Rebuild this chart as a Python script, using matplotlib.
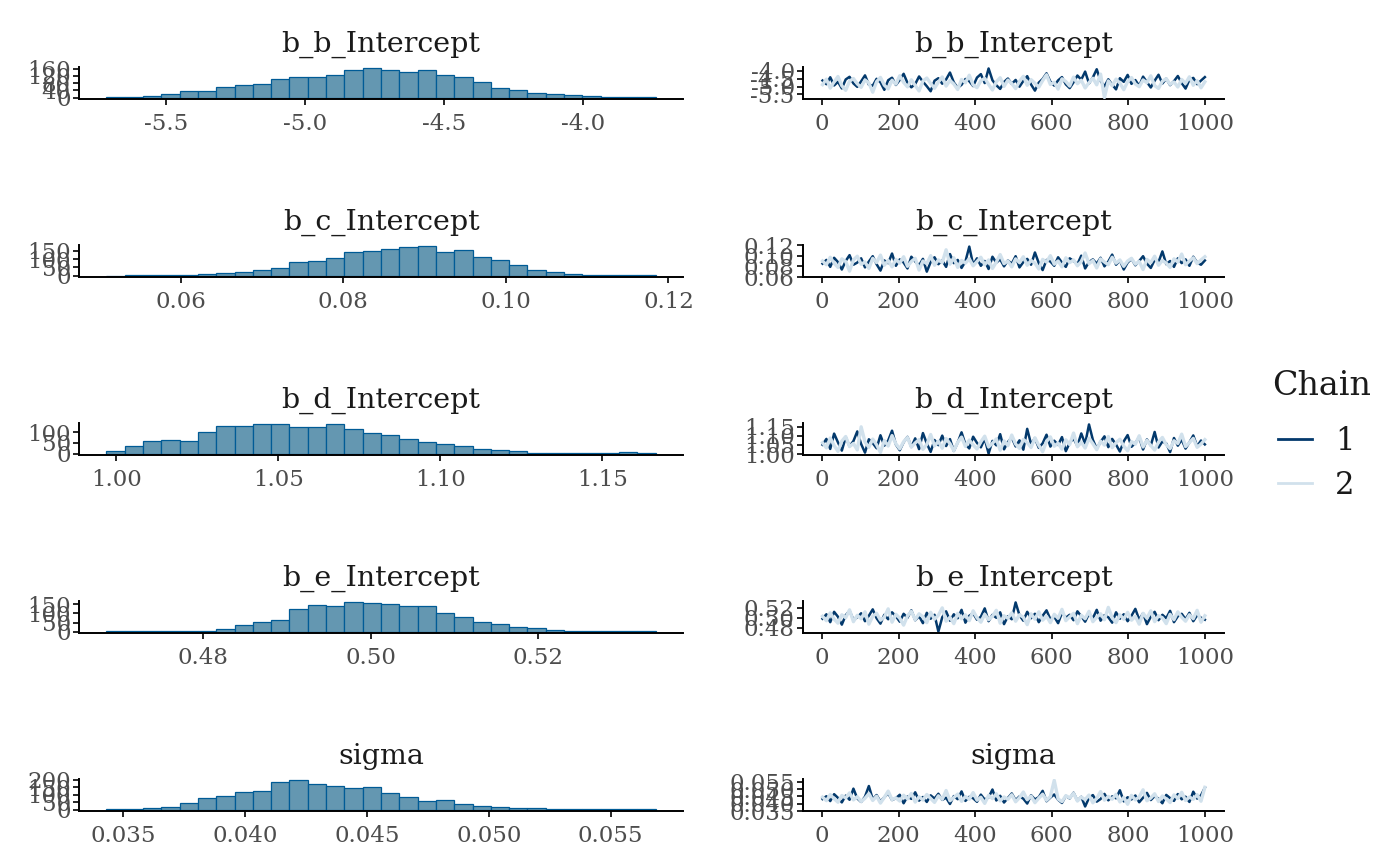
import numpy as np
import matplotlib
matplotlib.use("Agg")
import matplotlib.pyplot as plt

plt.rcParams['font.family'] = ['DejaVu Serif']

# ---------------- data ----------------
params = ["b_b_Intercept", "b_c_Intercept", "b_d_Intercept", "b_e_Intercept", "sigma"]

# histogram counts (30 bins, both chains pooled)
counts_b = [2, 1, 8, 17, 34, 35, 57, 69, 74, 105, 114, 112, 128, 153, 162,
            156, 141, 155, 128, 117, 86, 55, 40, 24, 17, 12, 10, 5, 2, 1]
counts_c = [0, 1, 2, 3, 4, 7, 15, 20, 32, 44, 80, 90, 105, 143, 148,
            162, 171, 176, 143, 155, 113, 97, 66, 32, 20, 11, 5, 4, 2, 1]
counts_d = [13, 34, 57, 61, 58, 103, 127, 130, 136, 136, 123, 123, 136, 117, 97,
            85, 70, 55, 43, 37, 21, 15, 12, 4, 4, 3, 2, 2, 5, 1]
counts_e = [1, 1, 2, 3, 5, 5, 14, 36, 53, 64, 123, 145, 141, 161, 156,
            152, 143, 143, 105, 81, 53, 44, 26, 18, 6, 3, 2, 1, 1, 1]
counts_s = [1, 2, 8, 15, 47, 77, 92, 121, 128, 188, 196, 175, 156, 147, 151,
            109, 87, 60, 64, 40, 23, 19, 13, 9, 4, 2, 2, 1, 1, 2]

# histogram bin range (lower edge of first bin, upper edge of last bin)
bin_start = [-5.714, 0.05087, 0.9969, 0.46844, 0.034326]
bin_end = [-3.739, 0.11841, 1.1665, 0.53399, 0.056839]

hist_xticks = [[-5.5, -5.0, -4.5, -4.0],
               [0.06, 0.08, 0.10, 0.12],
               [1.00, 1.05, 1.10, 1.15],
               [0.48, 0.50, 0.52],
               [0.035, 0.040, 0.045, 0.050, 0.055]]
hist_xlabels = [["-5.5", "-5.0", "-4.5", "-4.0"],
                ["0.06", "0.08", "0.10", "0.12"],
                ["1.00", "1.05", "1.10", "1.15"],
                ["0.48", "0.50", "0.52"],
                ["0.035", "0.040", "0.045", "0.050", "0.055"]]
hist_yticks = [[0, 40, 80, 120, 160],
               [0, 50, 100, 150],
               [0, 50, 100],
               [0, 50, 100, 150],
               [0, 50, 100, 150, 200]]

trace_yticks = hist_xticks
trace_ylabels = hist_xlabels
iter_ticks = [0, 200, 400, 600, 800, 1000]
n_iter = 1000

chain1_b = [-4.62, -4.85, -4.41, -4.93, -4.70, -5.12, -4.55, -4.38, -4.80, -5.02,
            -4.67, -4.29, -4.88, -4.95, -4.51, -4.73, -5.21, -4.60, -4.44, -4.90,
            -4.58, -4.19, -4.77, -5.05, -4.84, -4.36, -4.69, -4.98, -5.30, -4.63,
            -4.47, -4.82, -4.55, -4.11, -4.74, -5.08, -4.89, -4.52, -4.66, -4.97,
            -4.43, -4.21, -4.78, -3.85, -4.60, -4.92, -5.15, -4.71, -4.49, -4.83,
            -4.58, -5.01, -4.64, -4.34, -4.87, -5.26, -4.75, -4.52, -4.16, -4.69,
            -4.94, -4.61, -4.40, -4.86, -5.10, -4.73, -4.30, -4.56, -4.05, -4.80,
            -4.42, -3.90, -4.65, -4.99, -4.54, -4.88, -5.18, -4.47, -4.70, -4.26,
            -4.83, -4.59, -4.96, -4.37, -4.72, -5.06, -4.63, -4.25, -4.81, -4.50,
            -4.91, -4.66, -4.33, -4.78, -5.13, -4.57, -4.45, -4.85, -4.62, -4.40]
chain2_b = [-4.88, -4.53, -5.10, -4.71, -4.36, -4.95, -5.24, -4.66, -4.49, -4.83,
            -5.05, -4.58, -4.77, -5.36, -4.69, -4.42, -4.91, -5.15, -4.60, -4.85,
            -4.31, -4.74, -5.02, -4.57, -4.93, -5.28, -4.65, -4.46, -4.80, -5.11,
            -4.72, -4.39, -4.97, -4.61, -4.84, -5.19, -4.55, -4.76, -4.28, -4.90,
            -5.07, -4.63, -4.48, -4.86, -5.22, -4.70, -4.44, -4.99, -4.59, -4.81,
            -5.13, -4.67, -4.35, -4.92, -4.56, -4.79, -5.04, -4.62, -4.25, -4.87,
            -4.73, -5.16, -4.51, -4.68, -4.97, -4.40, -4.82, -4.60, -5.09, -4.75,
            -4.47, -4.89, -4.21, -5.70, -4.64, -4.95, -4.53, -4.78, -5.20, -4.69,
            -4.43, -4.84, -5.01, -4.58, -4.76, -4.32, -4.94, -5.12, -4.66, -4.50,
            -4.86, -4.71, -5.03, -4.55, -4.80, -4.38, -4.92, -4.63, -5.08, -4.70]

chain1_c = [0.085, 0.092, 0.079, 0.096, 0.088, 0.074, 0.090, 0.101, 0.083, 0.087,
            0.095, 0.078, 0.089, 0.099, 0.084, 0.072, 0.091, 0.086, 0.104, 0.081,
            0.093, 0.087, 0.076, 0.098, 0.089, 0.082, 0.094, 0.070, 0.088, 0.097,
            0.084, 0.091, 0.079, 0.103, 0.086, 0.092, 0.077, 0.089, 0.117, 0.083,
            0.095, 0.081, 0.090, 0.075, 0.098, 0.087, 0.093, 0.080, 0.091, 0.085,
            0.099, 0.078, 0.088, 0.094, 0.083, 0.106, 0.086, 0.073, 0.092, 0.089,
            0.081, 0.097, 0.087, 0.079, 0.095, 0.090, 0.084, 0.100, 0.076, 0.088,
            0.093, 0.085, 0.096, 0.080, 0.089, 0.102, 0.083, 0.091, 0.074, 0.087,
            0.094, 0.082, 0.090, 0.099, 0.085, 0.077, 0.092, 0.088, 0.108, 0.084,
            0.090, 0.079, 0.095, 0.086, 0.093, 0.081, 0.098, 0.087, 0.083, 0.091]
chain2_c = [0.090, 0.083, 0.097, 0.086, 0.078, 0.094, 0.089, 0.071, 0.092, 0.099,
            0.084, 0.088, 0.076, 0.095, 0.087, 0.101, 0.082, 0.091, 0.079, 0.093,
            0.086, 0.098, 0.080, 0.089, 0.095, 0.073, 0.090, 0.085, 0.100, 0.082,
            0.092, 0.087, 0.111, 0.084, 0.096, 0.078, 0.091, 0.086, 0.094, 0.081,
            0.089, 0.097, 0.083, 0.092, 0.076, 0.088, 0.102, 0.085, 0.090, 0.079,
            0.094, 0.087, 0.098, 0.082, 0.091, 0.086, 0.075, 0.093, 0.088, 0.100,
            0.084, 0.090, 0.079, 0.096, 0.087, 0.092, 0.081, 0.089, 0.105, 0.085,
            0.091, 0.077, 0.094, 0.088, 0.083, 0.097, 0.086, 0.092, 0.080, 0.090,
            0.095, 0.084, 0.089, 0.074, 0.093, 0.087, 0.099, 0.082, 0.091, 0.086,
            0.078, 0.094, 0.088, 0.103, 0.083, 0.090, 0.096, 0.085, 0.092, 0.098]

chain1_d = [1.051, 1.083, 1.028, 1.112, 1.064, 1.019, 1.092, 1.043, 1.071, 1.124,
            1.055, 1.008, 1.081, 1.060, 1.032, 1.103, 1.046, 1.074, 1.128, 1.052,
            1.021, 1.065, 1.094, 1.039, 1.086, 1.027, 1.115, 1.058, 1.012, 1.077,
            1.049, 1.101, 1.044, 1.082, 1.017, 1.063, 1.119, 1.053, 1.031, 1.095,
            1.061, 1.037, 1.084, 1.003, 1.072, 1.048, 1.109, 1.026, 1.066, 1.090,
            1.042, 1.075, 1.024, 1.138, 1.054, 1.087, 1.034, 1.059, 1.106, 1.041,
            1.073, 1.050, 1.093, 1.016, 1.062, 1.085, 1.045, 1.113, 1.056, 1.162,
            1.078, 1.029, 1.067, 1.097, 1.038, 1.083, 1.052, 1.014, 1.070, 1.104,
            1.040, 1.061, 1.091, 1.025, 1.080, 1.047, 1.121, 1.036, 1.069, 1.058,
            1.011, 1.088, 1.046, 1.079, 1.030, 1.064, 1.102, 1.043, 1.074, 1.053]
chain2_d = [1.062, 1.034, 1.088, 1.047, 1.015, 1.071, 1.096, 1.041, 1.058, 1.023,
            1.149, 1.066, 1.037, 1.082, 1.051, 1.009, 1.074, 1.044, 1.101, 1.056,
            1.029, 1.068, 1.091, 1.038, 1.061, 1.079, 1.026, 1.053, 1.107, 1.045,
            1.070, 1.032, 1.085, 1.057, 1.019, 1.064, 1.093, 1.042, 1.077, 1.050,
            1.028, 1.067, 1.098, 1.039, 1.059, 1.083, 1.021, 1.072, 1.046, 1.104,
            1.055, 1.031, 1.080, 1.063, 1.036, 1.089, 1.048, 1.013, 1.069, 1.094,
            1.043, 1.060, 1.027, 1.078, 1.052, 1.115, 1.040, 1.065, 1.033, 1.087,
            1.057, 1.024, 1.071, 1.049, 1.096, 1.035, 1.062, 1.081, 1.044, 1.018,
            1.068, 1.054, 1.100, 1.039, 1.075, 1.047, 1.022, 1.066, 1.091, 1.051,
            1.030, 1.073, 1.058, 1.109, 1.041, 1.063, 1.086, 1.037, 1.055, 1.079]

chain1_e = [0.498, 0.507, 0.491, 0.512, 0.502, 0.486, 0.505, 0.514, 0.496, 0.501,
            0.509, 0.493, 0.504, 0.517, 0.499, 0.488, 0.506, 0.497, 0.511, 0.503,
            0.492, 0.508, 0.500, 0.515, 0.495, 0.503, 0.489, 0.510, 0.498, 0.506,
            0.472, 0.501, 0.513, 0.494, 0.507, 0.499, 0.516, 0.490, 0.504, 0.509,
            0.496, 0.502, 0.519, 0.493, 0.506, 0.500, 0.511, 0.487, 0.503, 0.497,
            0.531, 0.505, 0.494, 0.512, 0.499, 0.508, 0.491, 0.504, 0.515, 0.497,
            0.502, 0.489, 0.510, 0.500, 0.506, 0.495, 0.513, 0.503, 0.492, 0.508,
            0.499, 0.516, 0.494, 0.505, 0.501, 0.490, 0.511, 0.498, 0.507, 0.493,
            0.504, 0.518, 0.496, 0.509, 0.487, 0.502, 0.512, 0.495, 0.506, 0.499,
            0.514, 0.491, 0.503, 0.508, 0.497, 0.510, 0.493, 0.505, 0.500, 0.496]
chain2_e = [0.503, 0.494, 0.510, 0.497, 0.489, 0.506, 0.500, 0.516, 0.492, 0.505,
            0.498, 0.512, 0.487, 0.503, 0.509, 0.495, 0.501, 0.518, 0.491, 0.507,
            0.499, 0.485, 0.504, 0.513, 0.496, 0.508, 0.502, 0.490, 0.511, 0.497,
            0.505, 0.520, 0.493, 0.501, 0.488, 0.509, 0.498, 0.506, 0.494, 0.514,
            0.500, 0.491, 0.507, 0.496, 0.503, 0.515, 0.489, 0.504, 0.499, 0.510,
            0.493, 0.506, 0.501, 0.486, 0.508, 0.497, 0.512, 0.495, 0.503, 0.490,
            0.507, 0.499, 0.517, 0.494, 0.502, 0.509, 0.488, 0.505, 0.498, 0.513,
            0.492, 0.501, 0.508, 0.496, 0.521, 0.500, 0.490, 0.506, 0.497, 0.511,
            0.495, 0.503, 0.487, 0.509, 0.499, 0.514, 0.492, 0.504, 0.500, 0.488,
            0.507, 0.496, 0.512, 0.501, 0.493, 0.506, 0.498, 0.515, 0.491, 0.504]

chain1_s = [0.0432, 0.0451, 0.0418, 0.0465, 0.0440, 0.0409, 0.0455, 0.0427, 0.0503, 0.0436,
            0.0412, 0.0448, 0.0521, 0.0430, 0.0459, 0.0415, 0.0444, 0.0472, 0.0425, 0.0438,
            0.0461, 0.0403, 0.0449, 0.0433, 0.0478, 0.0421, 0.0446, 0.0412, 0.0457, 0.0435,
            0.0468, 0.0426, 0.0441, 0.0398, 0.0452, 0.0431, 0.0484, 0.0419, 0.0447, 0.0437,
            0.0413, 0.0462, 0.0428, 0.0443, 0.0497, 0.0422, 0.0454, 0.0408, 0.0439, 0.0470,
            0.0424, 0.0450, 0.0434, 0.0401, 0.0458, 0.0429, 0.0445, 0.0488, 0.0417, 0.0442,
            0.0463, 0.0427, 0.0405, 0.0453, 0.0436, 0.0475, 0.0420, 0.0447, 0.0381, 0.0440,
            0.0459, 0.0414, 0.0432, 0.0467, 0.0423, 0.0450, 0.0437, 0.0492, 0.0416, 0.0444,
            0.0429, 0.0456, 0.0410, 0.0441, 0.0474, 0.0425, 0.0452, 0.0434, 0.0403, 0.0460,
            0.0438, 0.0419, 0.0466, 0.0430, 0.0448, 0.0412, 0.0482, 0.0435, 0.0457, 0.0509]
chain2_s = [0.0445, 0.0421, 0.0462, 0.0434, 0.0410, 0.0456, 0.0439, 0.0474, 0.0426, 0.0448,
            0.0415, 0.0437, 0.0469, 0.0422, 0.0451, 0.0404, 0.0443, 0.0486, 0.0428, 0.0440,
            0.0418, 0.0458, 0.0433, 0.0470, 0.0411, 0.0447, 0.0425, 0.0463, 0.0436, 0.0409,
            0.0454, 0.0430, 0.0490, 0.0420, 0.0442, 0.0466, 0.0416, 0.0449, 0.0431, 0.0476,
            0.0424, 0.0444, 0.0402, 0.0457, 0.0435, 0.0468, 0.0419, 0.0446, 0.0429, 0.0461,
            0.0413, 0.0441, 0.0480, 0.0427, 0.0452, 0.0407, 0.0438, 0.0465, 0.0423, 0.0449,
            0.0560, 0.0432, 0.0414, 0.0455, 0.0440, 0.0471, 0.0418, 0.0445, 0.0428, 0.0459,
            0.0406, 0.0437, 0.0483, 0.0424, 0.0450, 0.0431, 0.0464, 0.0412, 0.0443, 0.0396,
            0.0457, 0.0426, 0.0447, 0.0495, 0.0420, 0.0439, 0.0468, 0.0415, 0.0453, 0.0433,
            0.0408, 0.0460, 0.0436, 0.0478, 0.0422, 0.0446, 0.0430, 0.0462, 0.0417, 0.0512]

hist_counts = [counts_b, counts_c, counts_d, counts_e, counts_s]
chain1 = [chain1_b, chain1_c, chain1_d, chain1_e, chain1_s]
chain2 = [chain2_b, chain2_c, chain2_d, chain2_e, chain2_s]
chain_labels = ["1", "2"]
legend_title = "Chain"

# ---------------- style ----------------
FILL = "#6497b1"
EDGE = "#005b96"
DARK = "#03396c"
LIGHT = "#d1e1ec"
TICKCOL = "#4D4D4D"
TITLECOL = "#1A1A1A"

W, H = 1400, 865
fig = plt.figure(figsize=(W / 100, H / 100), dpi=100)
fig.patch.set_facecolor("white")


def px_axes(x0, x1, top, bottom):
    return fig.add_axes([x0 / W, 1 - bottom / H, (x1 - x0) / W, (bottom - top) / H])


def style(ax):
    for s in ["top", "right"]:
        ax.spines[s].set_visible(False)
    for s in ["left", "bottom"]:
        ax.spines[s].set_linewidth(1.4)
        ax.spines[s].set_color("black")
    ax.tick_params(axis="both", which="major", length=4, width=1.2, color="black",
                   labelcolor=TICKCOL, labelsize=16.5)
    ax.tick_params(axis="x", pad=6)
    ax.tick_params(axis="y", pad=2)
    ax.set_facecolor("white")


row_bottoms = [99, 277, 455, 633, 811]
panel_h = 32
TITLE_FS = 20.5
handles = None

for i, name in enumerate(params):
    bottom = row_bottoms[i]
    top = bottom - panel_h
    # ---- histogram ----
    ax = px_axes(79, 683, top, bottom)
    style(ax)
    counts = np.array(hist_counts[i], dtype=float)
    edges = np.linspace(bin_start[i], bin_end[i], len(counts) + 1)
    centers = 0.5 * (edges[:-1] + edges[1:])
    ax.hist(centers, bins=edges, weights=counts, color=FILL, edgecolor=EDGE, linewidth=0.9)
    span = bin_end[i] - bin_start[i]
    ax.set_xlim(bin_start[i] - 0.05 * span, bin_end[i] + 0.05 * span)
    cmax = counts.max()
    ax.set_ylim(-0.05 * cmax, 1.05 * cmax)
    ax.set_xticks(hist_xticks[i])
    ax.set_xticklabels(hist_xlabels[i])
    ax.set_yticks(hist_yticks[i])
    ax.set_yticklabels([str(v) for v in hist_yticks[i]])
    ax.set_title(name, fontsize=TITLE_FS, color=TITLECOL, pad=11)

    # ---- trace ----
    ax2 = px_axes(803, 1224, top, bottom)
    style(ax2)
    y1 = np.array(chain1[i])
    y2 = np.array(chain2[i])
    it = np.linspace(1, n_iter, len(y1))
    l1, = ax2.plot(it, y1, color=DARK, linewidth=1.8, zorder=2)
    l2, = ax2.plot(it, y2, color=LIGHT, linewidth=2.4, zorder=3)
    if handles is None:
        handles = [l1, l2]
    ymin = min(y1.min(), y2.min())
    ymax = max(y1.max(), y2.max())
    yr = ymax - ymin
    ax2.set_ylim(ymin - 0.05 * yr, ymax + 0.05 * yr)
    ax2.set_xlim(-0.05 * n_iter, 1.05 * n_iter)
    ax2.set_xticks(iter_ticks)
    ax2.set_xticklabels([str(v) for v in iter_ticks])
    ax2.set_yticks(trace_yticks[i])
    ax2.set_yticklabels(trace_ylabels[i])
    ax2.set_title(name, fontsize=TITLE_FS, color=TITLECOL, pad=11)

# legend: title as separate text, entries via fig.legend
fig.text(1272 / W, 1 - 386 / H, legend_title, fontsize=24, color=TITLECOL,
         ha="left", va="center")
leg = fig.legend(handles, chain_labels, loc="upper left",
                 bbox_to_anchor=(1278 / W, 1 - 426 / H), frameon=False, borderpad=0,
                 borderaxespad=0, fontsize=22, handlelength=1.12, handletextpad=0.75,
                 labelspacing=0.42)
for t in leg.get_texts():
    t.set_color(TITLECOL)
for h in leg.legend_handles:
    h.set_linewidth(2.0)

fig.savefig("out.png", dpi=100, facecolor="white")
